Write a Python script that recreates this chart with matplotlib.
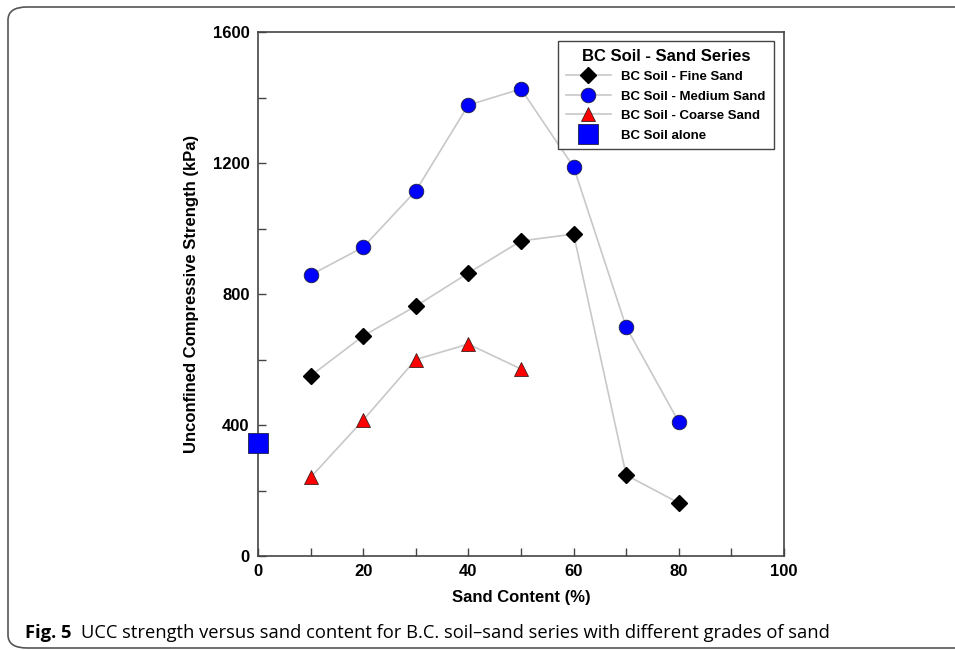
import numpy as np
import matplotlib
matplotlib.use("Agg")
import matplotlib.pyplot as plt
from matplotlib.patches import FancyBboxPatch

# Data (kPa)
sand_content = [10, 20, 30, 40, 50, 60, 70, 80]
fine_sand = [550, 672, 763, 864, 962, 983, 247, 162]
medium_sand = [858, 943, 1115, 1377, 1426, 1188, 699, 409]
coarse_content = [10, 20, 30, 40, 50]
coarse_sand = [240, 415, 600, 647, 571]
soil_alone_x = [0]
soil_alone_y = [345]

plt.rcParams["font.family"] = ["Liberation Sans", "DejaVu Sans"]

fig = plt.figure(figsize=(9.55, 6.5), dpi=100)
ax = fig.add_axes([258 / 955, 94 / 650, 526 / 955, 524 / 650])

line_kw = dict(color="#c8c8c8", lw=1.2)
ax.plot(sand_content, fine_sand, marker="D", ms=8, mfc="black", mec="black",
        label="BC Soil - Fine Sand", **line_kw)
ax.plot(sand_content, medium_sand, marker="o", ms=10.5, mfc="#0000ff", mec="#202040",
        mew=0.6, label="BC Soil - Medium Sand", **line_kw)
ax.plot(coarse_content, coarse_sand, marker="^", ms=10, mfc="#ff0000", mec="#402020",
        mew=0.6, label="BC Soil - Coarse Sand", **line_kw)
ax.plot(soil_alone_x, soil_alone_y, ls="none", marker="s", ms=14, mfc="#0000ff",
        mec="#202040", mew=0.6, label="BC Soil alone", clip_on=False, zorder=5)

ax.set_xlim(0, 100)
ax.set_ylim(0, 1600)
ax.set_xticks(np.arange(0, 101, 20))
ax.set_xticks(np.arange(10, 100, 20), minor=True)
ax.set_yticks(np.arange(0, 1601, 400))
ax.set_yticks(np.arange(200, 1600, 400), minor=True)
ax.tick_params(which="both", direction="in", length=6, width=1, color="#444444")
ax.tick_params(which="major", labelsize=12, pad=6)
for lbl in ax.get_xticklabels() + ax.get_yticklabels():
    lbl.set_fontweight("bold")
for s in ax.spines.values():
    s.set_color("#444444")
    s.set_linewidth(1.2)

ax.set_xlabel("Sand Content (%)", fontsize=12, fontweight="bold", labelpad=8)
ax.set_ylabel("Unconfined Compressive Strength (kPa)", fontsize=12,
              fontweight="bold", labelpad=10)

leg = ax.legend(loc="upper right", bbox_to_anchor=(0.993, 0.996),
                title="BC Soil - Sand Series", fancybox=False,
                prop={"weight": "bold", "size": 9.5},
                title_fontproperties={"weight": "bold", "size": 12},
                labelspacing=0.55, handlelength=3.4, borderpad=0.6,
                framealpha=1)
leg.get_frame().set_edgecolor("#444444")
leg.get_frame().set_linewidth(1.0)

# caption box and caption text
box = FancyBboxPatch((8 / 955, 2 / 650), 1.2, 641 / 650,
                     boxstyle="round,pad=0,rounding_size=0.02",
                     transform=fig.transFigure, fill=False,
                     ec="#555555", lw=1.2, clip_on=False)
fig.patches.append(box)
fig.text(25 / 955, 12 / 650, "Fig. 5", fontsize=13.2, fontweight="bold",
         family=["Open Sans", "DejaVu Sans"], va="baseline")
fig.text(81 / 955, 12 / 650,
         "UCC strength versus sand content for B.C. soil\u2013sand series with different grades of sand",
         fontsize=13.2, family=["Open Sans", "DejaVu Sans"], va="baseline")

fig.savefig("out.png", dpi=100)
